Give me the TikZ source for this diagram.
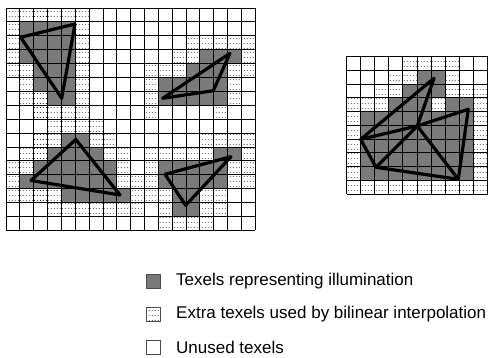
\documentclass[tikz,border=0pt]{standalone}
\usepackage{fontspec}
\setmainfont{Liberation Sans}
\usetikzlibrary{patterns.meta}

% sparse stipple used for the extra (filter) texels
\tikzdeclarepattern{
  name=texeldots,
  type=uncolored,
  bounding box={(0,0) and (2.8pt,4.6pt)},
  tile size={(2.8pt,4.6pt)},
  code={\fill (0.9pt,1.2pt) rectangle (1.8pt,2.1pt);}
}

\tikzset{
  texlit/.style={fill=black!52},
  texextra/.style={pattern=texeldots, pattern color=black!80},
  gridline/.style={line width=0.9pt, black},
  facet/.style={line width=3.2pt, line join=round, line cap=round},
  keybox/.style={draw=black!70, line width=0.8pt, minimum size=14pt, inner sep=0pt},
  keytext/.style={anchor=west, inner sep=0pt, font=\fontsize{17}{20}\selectfont}
}

% paint the texels of one row: #1 row, #2 columns, #3 style
\newcommand\paintrow[3]{\foreach \c in {#2} {\path[#3] (\c,#1) rectangle ++(1,1);}}

\begin{document}
\begin{tikzpicture}[x=1pt,y=-1pt]
\useasboundingbox (0,0) rectangle (490,358);

% ---------------- left light map: 18 x 16 texels ----------------
\begin{scope}[shift={(6,8)}, x=13.85pt, y=-13.9pt]
  % texels covered by the triangles
  \paintrow{1}{1,...,4}{texlit}
  \paintrow{2}{1,...,4}{texlit}
  \paintrow{3}{1,...,4,14,15,16}{texlit}
  \paintrow{4}{2,3,4,13,14,15}{texlit}
  \paintrow{5}{2,3,4,11,12,13,14,15}{texlit}
  \paintrow{6}{3,4,11,12,13,14,15}{texlit}
  \paintrow{9}{4,5}{texlit}
  \paintrow{10}{3,4,5,6,15,16}{texlit}
  \paintrow{11}{2,...,7,11,12,13,14,15}{texlit}
  \paintrow{12}{1,...,7,11,12,13,14,15}{texlit}
  \paintrow{13}{4,...,8,12,13}{texlit}
  \paintrow{14}{12,13}{texlit}
  % neighbouring texels read by the bilinear filter
  \paintrow{0}{0,...,5}{texextra}
  \paintrow{1}{0,5}{texextra}
  \paintrow{2}{0,5,13,14,15,16,17}{texextra}
  \paintrow{3}{0,5,12,13,17}{texextra}
  \paintrow{4}{0,1,5,10,11,12,16,17}{texextra}
  \paintrow{5}{1,5,10,16}{texextra}
  \paintrow{6}{1,2,5,10,16}{texextra}
  \paintrow{7}{2,3,4,5,10,...,16}{texextra}
  \paintrow{8}{3,4,5,6}{texextra}
  \paintrow{9}{2,3,6,7,14,15,16,17}{texextra}
  \paintrow{10}{1,2,7,8,10,11,12,13,14,17}{texextra}
  \paintrow{11}{0,1,8,10,16,17}{texextra}
  \paintrow{12}{0,8,9,10,16,17}{texextra}
  \paintrow{13}{0,1,2,3,9,10,11,14,15}{texextra}
  \paintrow{14}{3,...,9,11,14,15}{texextra}
  \paintrow{15}{11,12,13,14}{texextra}
  % texel grid
  \foreach \i in {0,...,18} \draw[gridline] (\i,0) -- (\i,16);
  \foreach \j in {0,...,16} \draw[gridline] (0,\j) -- (18,\j);
\end{scope}

% ---------------- right light map: 10 x 10 texels ----------------
\begin{scope}[shift={(346.5,56.5)}, x=14.1pt, y=-13.75pt]
  \paintrow{1}{5,6}{texlit}
  \paintrow{2}{4,5,6}{texlit}
  \paintrow{3}{3,4,5,7,8}{texlit}
  \foreach \r in {4,...,8} {\paintrow{\r}{1,...,8}{texlit}}
  \paintrow{0}{4,5,6,7}{texextra}
  \paintrow{1}{3,4,7}{texextra}
  \paintrow{2}{2,3,7,8,9}{texextra}
  \paintrow{3}{0,1,2,6,9}{texextra}
  \foreach \r in {4,...,8} {\paintrow{\r}{0,9}{texextra}}
  \paintrow{9}{0,...,9}{texextra}
  \foreach \i in {0,...,10} \draw[gridline] (\i,0) -- (\i,10);
  \foreach \j in {0,...,10} \draw[gridline] (0,\j) -- (10,\j);
\end{scope}

% ---------------- triangles ----------------
\coordinate (p1) at (20.7,37.3);
\coordinate (p2) at (75,24);
\coordinate (p3) at (61.7,98.3);
\coordinate (q1) at (162.7,98.3);
\coordinate (q2) at (230,53.3);
\coordinate (q3) at (213.3,90.7);
\coordinate (r1) at (75.8,139.5);
\coordinate (r2) at (31,180.5);
\coordinate (r3) at (120,195);
\coordinate (s1) at (165,174.3);
\coordinate (s2) at (231,156.7);
\coordinate (s3) at (185.7,205.3);
\draw[facet] (p1) -- (p2) -- (p3) -- cycle;
\draw[facet] (q1) -- (q2) -- (q3) -- cycle;
\draw[facet] (r1) -- (r2) -- (r3) -- cycle;
\draw[facet] (s1) -- (s2) -- (s3) -- cycle;

% fan of four triangles in the small map
\coordinate (A) at (434,78.3);
\coordinate (B) at (360.7,139.3);
\coordinate (C) at (417.3,126);
\coordinate (D) at (468.3,109.3);
\coordinate (E) at (376,167.3);
\coordinate (F) at (458.3,179.3);
\draw[facet] (A) -- (B) -- (C) -- cycle;
\draw[facet] (B) -- (E) -- (C);
\draw[facet] (E) -- (F) -- (C);
\draw[facet] (C) -- (D) -- (F);

% ---------------- key ----------------
\node[keybox, texlit]  (k1) at (153,281) {};
\node[keybox, texextra] (k2) at (153,314) {};
\node[keybox]          (k3) at (153,347) {};
\node[keytext] (t1) at (176,281) {Texels representing illumination};
\node[keytext] (t2) at (176,314) {Extra texels used by bilinear interpolation};
\node[keytext] (t3) at (176,347) {Unused texels};
\end{tikzpicture}
\end{document}
